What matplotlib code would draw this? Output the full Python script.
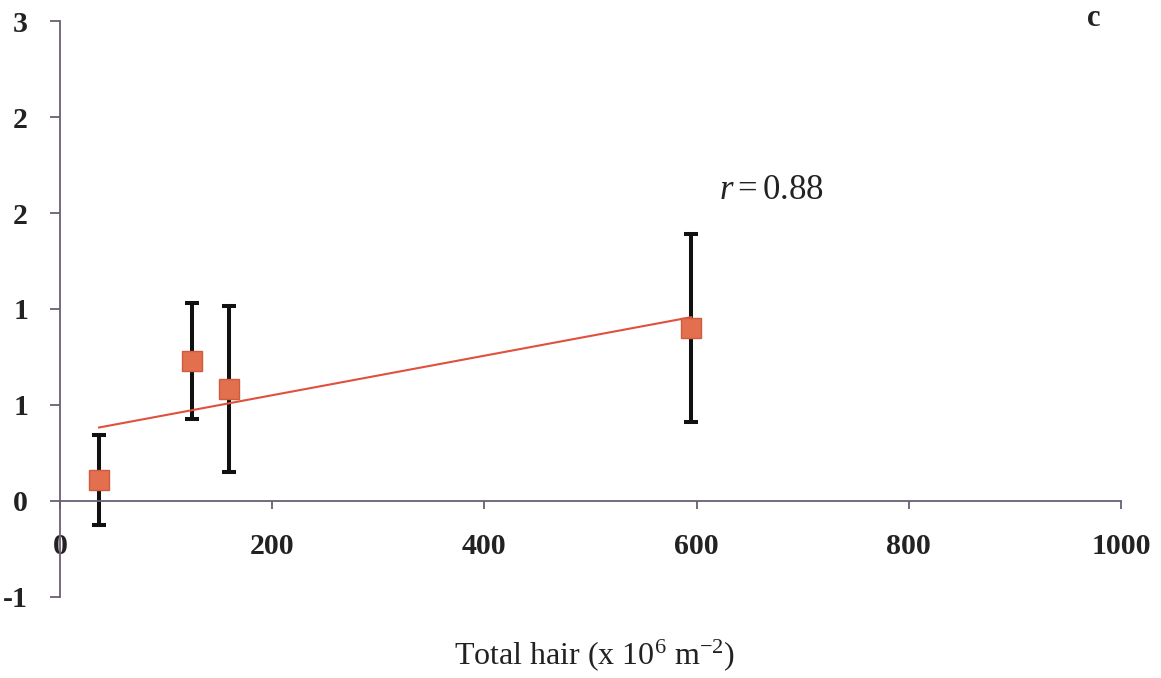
import math
import numpy as np
import matplotlib.pyplot as plt
from matplotlib.ticker import FuncFormatter

# values
hair = [36.8, 124.5, 159, 595]
resp = [0.109, 0.729, 0.583, 0.901]
err = [0.234, 0.302, 0.432, 0.492]

x_ticks = [0, 200, 400, 600, 800, 1000]
y_ticks = [-0.5, 0, 0.5, 1, 1.5, 2, 2.5]

marker_col = '#e2704f'
line_col = '#e0503c'
axis_col = '#6a5f72'

plt.rcParams['font.family'] = ['Liberation Serif', 'DejaVu Serif']
plt.rcParams['mathtext.fontset'] = 'custom'
plt.rcParams['mathtext.rm'] = 'Liberation Serif'
plt.rcParams['mathtext.it'] = 'Liberation Serif:italic'

fig = plt.figure(figsize=(11.61, 6.78), dpi=100)
ax = fig.add_axes([0.0517, 0.1195, 0.9138, 0.8495])

# trendline (least squares)
coef = np.polyfit(hair, resp, 1)
xs = np.array([min(hair), max(hair)])
ax.plot(xs, np.polyval(coef, xs), color=line_col, lw=1.5, zorder=3)

ax.errorbar(hair, resp, yerr=err, fmt='none', ecolor='#111111',
            elinewidth=2.9, capsize=4.8, capthick=2.9, zorder=2)
ax.plot(hair, resp, 's', ms=14.5, mfc=marker_col, mec='#d05a3e', mew=1, zorder=4)

ax.set_xlim(0, 1000)
ax.set_ylim(-0.5, 2.5)
ax.set_xticks(x_ticks)
ax.set_yticks(y_ticks)

# excel style "0" number format: round half away from zero
def rnd(v, pos):
    return '%d' % (math.copysign(math.floor(abs(v) + 0.5), v))

ax.yaxis.set_major_formatter(FuncFormatter(rnd))

ax.spines['top'].set_visible(False)
ax.spines['right'].set_visible(False)
ax.spines['bottom'].set_position(('data', 0))
for s in ['left', 'bottom']:
    ax.spines[s].set_color(axis_col)
    ax.spines[s].set_linewidth(1.3)

ax.tick_params(axis='x', direction='out', length=6, width=1.3, color=axis_col,
               pad=17, labelsize=21.5)
ax.tick_params(axis='y', direction='out', length=7, width=1.3, color=axis_col,
               pad=16, labelsize=21.5)
for lab in ax.get_xticklabels() + ax.get_yticklabels():
    lab.set_fontweight('bold')
    lab.set_color('#222222')

ax.text(621, 1.615, r'$r = 0.88$', fontsize=25, va='center', ha='left',
        color='#222222')
fig.text(0.942, 0.972, 'c', fontsize=22, fontweight='bold', ha='center',
         va='center', color='#222222')
fig.text(0.512, 0.034, r'Total hair (x 10$^{6}$ m$^{-2}$)', fontsize=23,
         ha='center', va='center', color='#222222')

fig.savefig('out.png', dpi=100)
